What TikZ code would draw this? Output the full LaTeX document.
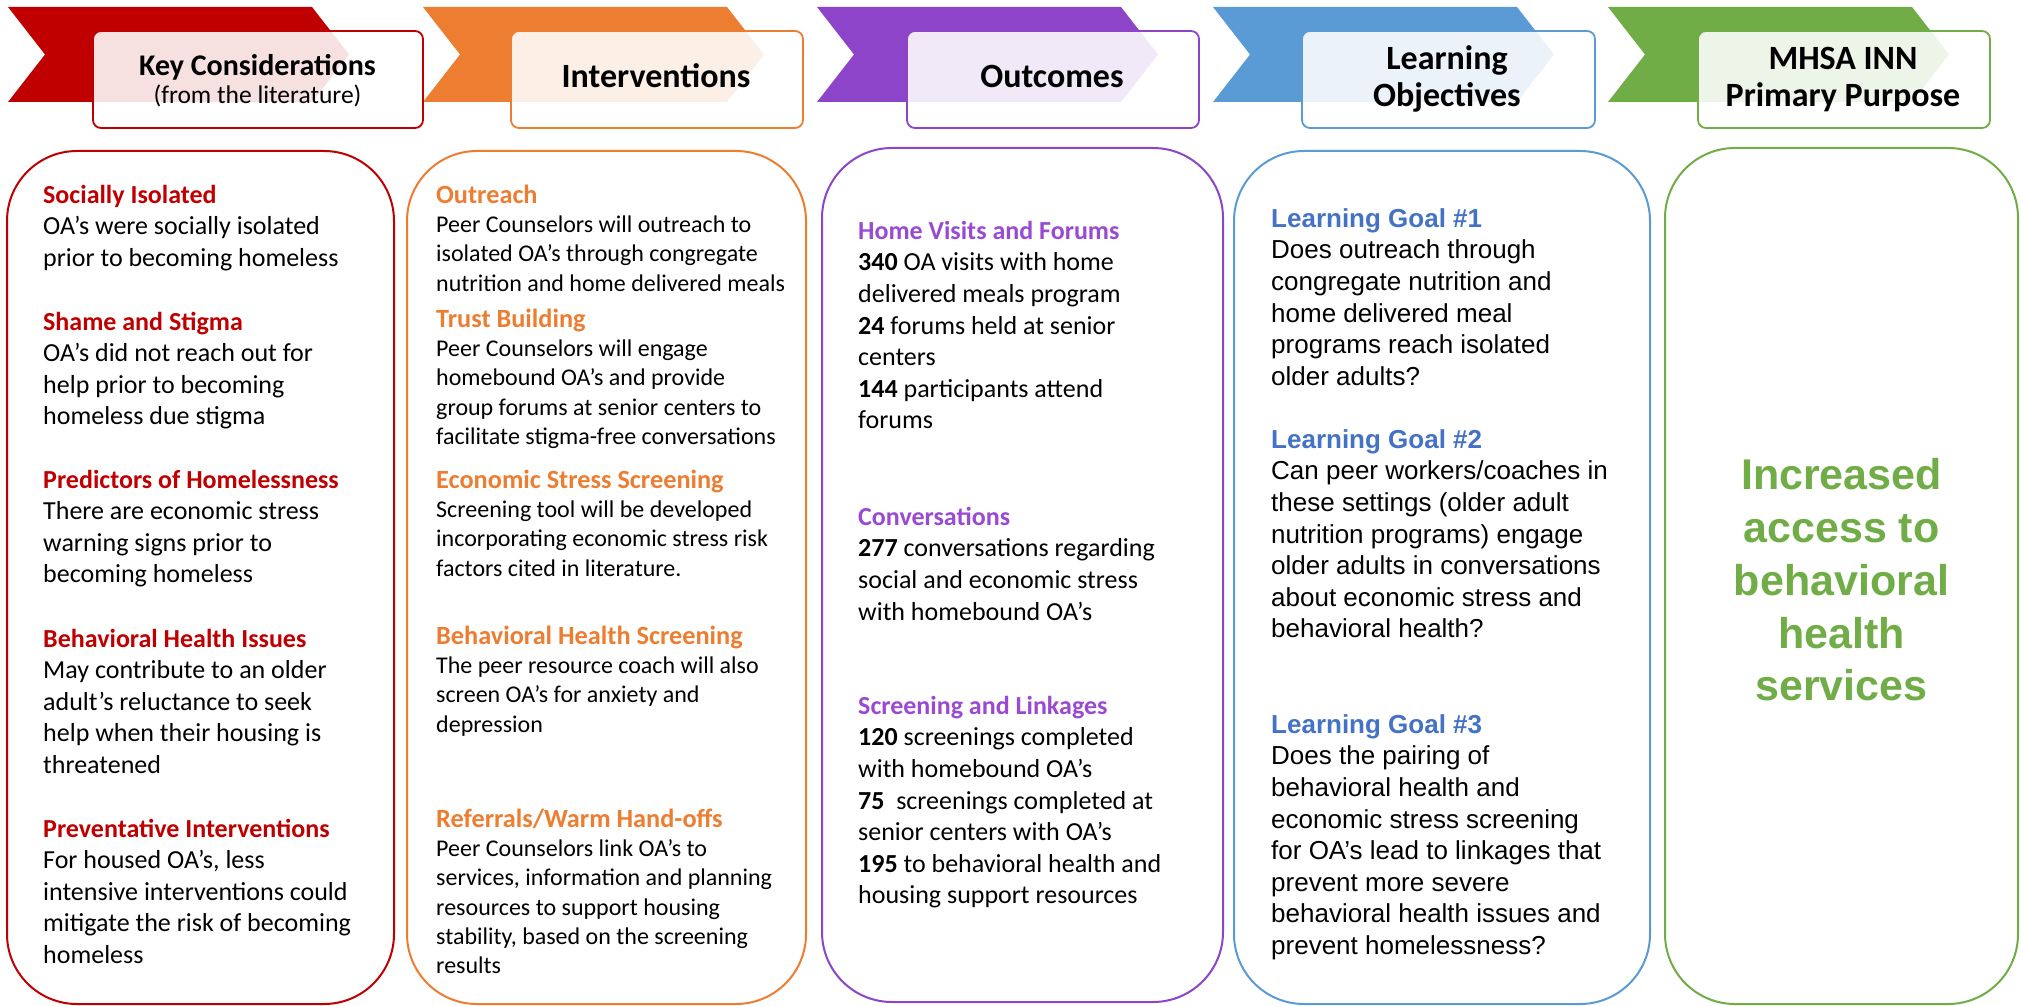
\documentclass[tikz,border=0pt]{standalone}
\usepackage{fontspec}
\setmainfont{Carlito}
\newfontfamily\arialf{Liberation Sans}
\definecolor{cRed}{HTML}{C00000}
\definecolor{cOrange}{HTML}{ED7D31}
\definecolor{cPurple}{HTML}{8E44C8}
\definecolor{cPurpleT}{HTML}{9A4AD2}
\definecolor{cBlue}{HTML}{5B9BD5}
\definecolor{cBlueT}{HTML}{4472C4}
\definecolor{cGreen}{HTML}{70AD47}
\newcommand\drawchev[2]{\fill[#2] (#1,7) -- ++(304,0) -- ++(37,47.5) -- ++(-37,47.5) -- ++(-304,0) -- ++(37,-47.5) -- cycle;}
\newcommand\ohead[1]{\textcolor{cOrange}{\bfseries\fontsize{26.3}{29.3}\selectfont #1}}
\begin{document}
\begin{tikzpicture}[x=1pt,y=-1pt,
  hbox/.style={draw=#1, line width=1.8pt, rounded corners=8pt, fill=white, fill opacity=0.88, minimum height=97pt, inner sep=0pt},
  colbox/.style={draw=#1, line width=2pt, rounded corners=70pt, inner sep=0pt},
  htxt/.style={anchor=base, inner sep=0pt, font=\bfseries\fontsize{34}{37}\selectfont},
  bodyA/.style={anchor=north west, inner sep=0pt, align=left, font=\fontsize{26}{31.5}\selectfont},
  bodyB/.style={anchor=north west, inner sep=0pt, align=left, font=\fontsize{24}{29.3}\selectfont},
  bodyC/.style={anchor=north west, inner sep=0pt, align=left, font=\fontsize{26}{31.6}\selectfont},
  bodyD/.style={anchor=north west, inner sep=0pt, align=left, font=\arialf\fontsize{26}{31.6}\selectfont},
]
\useasboundingbox (0,0) rectangle (2021,1006);
\fill[white] (0,0) rectangle (2021,1006);

% chevrons
\drawchev{8}{cRed}
\drawchev{423}{cOrange}
\drawchev{817}{cPurple}
\drawchev{1213}{cBlue}
\drawchev{1608}{cGreen}

% header boxes
\node[hbox=cRed, minimum width=330pt] (hb1) at (258,79.5) {};
\node[hbox=cOrange, minimum width=292pt] (hb2) at (657,79.5) {};
\node[hbox=cPurple, minimum width=292pt] (hb3) at (1053,79.5) {};
\node[hbox=cBlue, minimum width=293pt] (hb4) at (1448.5,79.5) {};
\node[hbox=cGreen, minimum width=292pt] (hb5) at (1844,79.5) {};

% header texts
\node[htxt, font=\bfseries\fontsize{30}{33}\selectfont] (ht1a) at (257.5,76) {Key Considerations};
\node[htxt, font=\fontsize{25.5}{28}\selectfont] (ht1b) at (257.5,104) {(from the literature)};
\node[htxt] (ht2) at (656,88) {Interventions};
\node[htxt] (ht3) at (1052,88) {Outcomes};
\node[htxt] (ht4a) at (1447,70) {Learning};
\node[htxt] (ht4b) at (1447,107) {Objectives};
\node[htxt] (ht5a) at (1843,70) {MHSA INN};
\node[htxt] (ht5b) at (1843,107) {Primary Purpose};

% column boxes
\node[colbox=cRed, minimum width=387pt, minimum height=853pt] (cb1) at (200.5,577.5) {};
\node[colbox=cOrange, minimum width=399pt, minimum height=853pt] (cb2) at (606.5,577.5) {};
\node[colbox=cPurple, minimum width=401pt, minimum height=854pt] (cb3) at (1022.5,575) {};
\node[colbox=cBlue, minimum width=416pt, minimum height=853pt] (cb4) at (1442,577.5) {};
\node[colbox=cGreen, minimum width=353pt, minimum height=856pt] (cb5) at (1841.5,576) {};

% column 1
\node[bodyA] (k1) at (43,180.95) {\strut\textcolor{cRed}{\bfseries Socially Isolated}\\OA’s were socially isolated\\prior to becoming homeless};
\node[bodyA] (k2) at (43,307.95) {\strut\textcolor{cRed}{\bfseries Shame and Stigma}\\OA’s did not reach out for\\help prior to becoming\\homeless due stigma};
\node[bodyA] (k3) at (43,465.95) {\strut\textcolor{cRed}{\bfseries Predictors of Homelessness}\\There are economic stress\\warning signs prior to\\becoming homeless};
\node[bodyA] (k4) at (43,624.95) {\strut\textcolor{cRed}{\bfseries Behavioral Health Issues}\\May contribute to an older\\adult’s reluctance to seek\\help when their housing is\\threatened};
\node[bodyA] (k5) at (43,814.95) {\strut\textcolor{cRed}{\bfseries Preventative Interventions}\\For housed OA’s, less\\intensive interventions could\\mitigate the risk of becoming\\homeless};

% column 2
\node[bodyB] (i1) at (436,182.49) {\strut\ohead{Outreach}\\Peer Counselors will outreach to\\isolated OA’s through congregate\\nutrition and home delivered meals};
\node[bodyB] (i2) at (436,306.49) {\strut\ohead{Trust Building}\\Peer Counselors will engage\\homebound OA’s and provide\\group forums at senior centers to\\facilitate stigma-free conversations};
\node[bodyB] (i3) at (436,467.49) {\strut\ohead{Economic Stress Screening}\\Screening tool will be developed\\incorporating economic stress risk\\factors cited in literature.};
\node[bodyB] (i4) at (436,623.49) {\strut\ohead{Behavioral Health Screening}\\The peer resource coach will also\\screen OA’s for anxiety and\\depression};
\node[bodyB] (i5) at (436,806.49) {\strut\ohead{Referrals/Warm Hand-offs}\\Peer Counselors link OA’s to\\services, information and planning\\resources to support housing\\stability, based on the screening\\results};

% column 3
\node[bodyC] (o1) at (858,216.88) {\strut\textcolor{cPurpleT}{\bfseries Home Visits and Forums}\\\textbf{340} OA visits with home\\delivered meals program\\\textbf{24} forums held at senior\\centers\\\textbf{144} participants attend\\forums};
\node[bodyC] (o2) at (858,502.88) {\strut\textcolor{cPurpleT}{\bfseries Conversations}\\\textbf{277} conversations regarding\\social and economic stress\\with homebound OA’s};
\node[bodyC] (o3) at (858,691.88) {\strut\textcolor{cPurpleT}{\bfseries Screening and Linkages}\\\textbf{120} screenings completed\\with homebound OA’s\\\textbf{75}\ \ screenings completed at\\senior centers with OA’s\\\textbf{195} to behavioral health and\\housing support resources};

% column 4
\node[bodyD] (l1) at (1271,204.88) {\strut\textcolor{cBlueT}{\bfseries Learning Goal \#1}\\Does outreach through\\congregate nutrition and\\home delivered meal\\programs reach isolated\\older adults?};
\node[bodyD] (l2) at (1271,425.88) {\strut\textcolor{cBlueT}{\bfseries Learning Goal \#2}\\Can peer workers/coaches in\\these settings (older adult\\nutrition programs) engage\\older adults in conversations\\about economic stress and\\behavioral health?};
\node[bodyD] (l3) at (1271,710.88) {\strut\textcolor{cBlueT}{\bfseries Learning Goal \#3}\\Does the pairing of\\behavioral health and\\economic stress screening\\for OA’s lead to linkages that\\prevent more severe\\behavioral health issues and\\prevent homelessness?};

% column 5
\node[inner sep=0pt, align=center, text=cGreen, font=\arialf\bfseries\fontsize{43}{52.7}\selectfont] (p1) at (1841.5,580) {Increased\\access to\\behavioral\\health\\services};
\end{tikzpicture}
\end{document}
